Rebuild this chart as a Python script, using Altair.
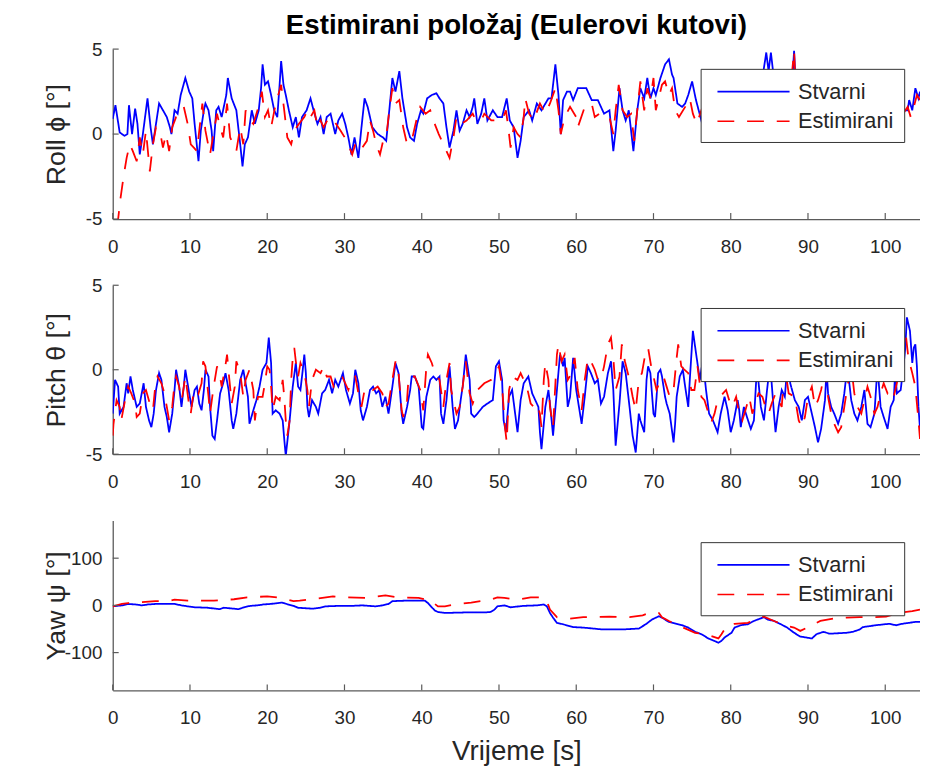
import altair as alt
import pandas as pd

# ---------------- data (time [s], angle) ----------------
ROLL_STVARNI = [[0,0.9],[0.35,1.7],[0.9,0.1],[1.5,-0.1],[1.9,0.0],[2.1,1.7],[2.5,0.0],[2.9,1.5],[3.2,0.6],[3.5,-1.2],[3.9,0.0],[4.5,2.1],[4.9,0.4],[5.2,-0.6],[5.6,0.6],[6.0,1.8],[6.5,1.4],[7.0,1.0],[7.4,0.4],[7.6,0.0],[8.0,1.4],[8.4,1.2],[8.8,2.3],[9.4,3.3],[9.9,2.5],[10.3,2.1],[10.6,0.6],[11.1,-1.6],[11.4,0.2],[11.8,1.4],[12.0,1.8],[12.4,1.4],[12.8,0.2],[13.0,-1.0],[13.4,1.4],[13.7,1.6],[14.1,1.0],[14.7,2.3],[14.9,3.3],[15.4,2.1],[16.0,1.4],[16.5,-0.6],[16.8,-1.9],[17.1,-0.6],[17.5,-0.2],[18.0,1.4],[18.4,0.6],[18.9,1.4],[19.2,2.7],[19.4,4.1],[19.7,2.9],[20.1,3.1],[20.5,2.3],[20.9,1.4],[21.3,1.0],[21.6,2.9],[21.8,4.3],[22.1,2.9],[22.4,2.3],[22.8,1.4],[23.3,0.4],[23.7,1.0],[24.1,-0.2],[24.5,1.0],[25.1,1.4],[25.6,2.1],[26.0,1.4],[26.5,0.6],[26.9,1.0],[27.3,0.0],[27.7,1.0],[28.2,1.2],[28.8,0.0],[29.2,0.8],[29.7,1.2],[30.1,0.6],[30.5,-0.2],[30.9,-1.2],[31.3,-0.2],[31.8,-1.4],[32.2,0.4],[32.6,2.1],[33.0,1.6],[33.6,0.4],[34.3,0.0],[35.0,-0.2],[35.4,-0.4],[35.8,1.4],[36.2,3.3],[36.6,2.5],[37.1,3.7],[37.5,2.1],[38.1,0.4],[38.5,-0.2],[39.0,-0.4],[39.4,0.6],[39.9,1.4],[40.2,1.2],[40.7,2.1],[41.3,2.3],[41.9,2.4],[42.3,2.1],[42.8,1.8],[43.2,0.4],[43.6,-0.8],[44.1,0.2],[44.5,1.4],[44.9,0.2],[45.3,0.6],[45.8,1.4],[46.2,1.0],[46.6,1.6],[46.8,2.1],[47.2,0.6],[47.7,1.2],[48.1,2.1],[48.5,0.8],[49.2,1.4],[49.8,1.0],[50.4,1.0],[51.0,2.1],[51.4,0.8],[51.9,0.4],[52.4,-1.4],[52.8,-0.4],[53.2,1.0],[53.9,1.4],[54.3,0.8],[54.9,1.8],[55.5,1.4],[56.4,2.1],[56.8,2.1],[57.3,4.1],[57.7,2.3],[58.0,0.0],[58.3,2.0],[58.8,2.5],[59.2,2.5],[59.6,2.0],[60.2,2.7],[61.3,2.7],[62.0,2.0],[62.8,2.0],[63.6,1.2],[64.3,1.4],[64.8,-1.0],[65.1,0.2],[65.6,2.7],[66.0,1.4],[66.4,0.8],[66.8,1.4],[67.4,-1.0],[67.9,1.4],[68.3,2.7],[68.8,2.1],[69.2,3.3],[69.6,2.1],[70.0,2.7],[70.3,2.3],[70.9,3.3],[71.5,4.1],[72.0,4.4],[72.4,3.5],[72.6,3.3],[73.1,1.8],[73.7,1.6],[74.1,1.8],[74.5,2.3],[75.0,3.1],[75.5,2.0],[76.2,0.8],[76.8,1.8],[77.4,0.6],[78.0,1.5],[78.6,2.4],[79.2,1.2],[79.8,0.4],[80.4,1.6],[81.0,2.6],[81.6,1.2],[82.2,2.2],[82.8,3.0],[83.4,2.0],[84.0,3.0],[84.6,4.8],[84.9,3.7],[85.2,4.8],[85.6,3.2],[86.2,2.2],[86.8,3.0],[87.4,1.8],[87.9,2.6],[88.2,4.9],[88.5,2.2],[89.0,1.4],[89.6,0.2],[90.2,1.0],[90.8,2.2],[91.4,1.2],[92.0,0.4],[92.6,1.6],[93.2,2.4],[93.8,1.0],[94.4,0.2],[95.0,1.2],[95.6,2.0],[96.2,0.8],[96.8,1.8],[97.4,2.6],[98.0,1.4],[98.6,0.6],[99.2,1.8],[99.8,2.2],[100.4,1.0],[101.0,0.4],[101.6,1.0],[101.9,0.8],[102.3,1.4],[102.9,1.4],[103.1,2.0],[103.5,1.4],[103.9,2.7],[104.3,2.1],[104.5,2.5]]

ROLL_ESTIMIRANI = [[0,-9],[0.7,-5.0],[1.0,-3.8],[1.4,-2.5],[1.8,-1.4],[2.2,-0.6],[2.6,-1.0],[3.1,-1.6],[3.5,-0.2],[3.9,-1.2],[4.3,0.2],[4.8,-2.2],[5.2,-0.6],[5.6,0.4],[6.1,0.2],[6.5,-0.8],[6.9,0.0],[7.3,-1.0],[7.7,0.4],[8.2,1.0],[8.8,1.2],[9.2,1.6],[9.7,0.6],[10.1,-0.6],[10.5,-0.8],[10.9,-1.0],[11.2,0.2],[11.6,1.8],[12.0,0.2],[12.6,-1.2],[13.1,0.2],[13.5,1.2],[13.9,0.4],[14.3,-0.2],[14.8,1.8],[15.2,-0.2],[15.6,-0.6],[16.0,-1.0],[16.5,0.4],[16.9,-0.6],[17.2,1.4],[17.8,0.8],[18.2,0.6],[18.6,1.2],[19.0,1.8],[19.3,2.5],[19.7,1.0],[20.1,1.4],[20.5,0.4],[21.1,1.8],[21.8,2.9],[22.2,1.4],[22.6,-0.2],[23.1,-0.6],[23.5,0.2],[24.1,0.6],[24.8,1.0],[25.2,1.4],[25.6,1.0],[26.1,1.4],[26.5,0.4],[26.9,0.8],[27.3,0.4],[28.0,1.0],[28.6,0.8],[29.5,0.2],[30.3,-0.4],[31.0,-1.2],[31.4,-0.6],[32.0,-1.0],[32.9,-0.4],[33.3,0.8],[33.7,0.2],[34.1,-0.6],[34.6,-1.2],[35.0,-0.4],[35.4,-0.2],[35.8,1.4],[36.2,2.7],[36.6,1.8],[37.1,2.0],[37.6,0.4],[38.1,-0.6],[38.8,-0.2],[39.4,1.0],[39.8,1.6],[40.5,1.2],[41.1,1.4],[41.5,0.8],[42.2,0.0],[42.8,-0.6],[43.2,-1.0],[43.6,-1.4],[44.1,-0.2],[44.5,1.0],[45.1,0.6],[45.8,0.8],[46.6,1.2],[47.0,0.8],[47.7,0.8],[48.1,1.2],[49.0,0.8],[49.8,0.8],[50.4,0.8],[50.9,1.4],[51.2,0.4],[51.5,-0.8],[51.9,0.4],[52.4,0.0],[52.8,-0.2],[53.2,1.0],[53.4,2.1],[53.9,1.2],[54.5,0.8],[55.3,1.8],[56.0,1.2],[56.6,1.8],[57.3,2.7],[57.7,1.4],[58.0,0.0],[58.5,1.0],[59.2,1.6],[60.0,1.0],[60.2,0.4],[61.1,1.6],[62.0,1.8],[62.4,1.0],[63.0,1.2],[63.8,1.0],[64.3,1.0],[64.8,0.0],[65.1,1.4],[65.5,2.9],[66.0,1.4],[66.6,1.0],[67.1,1.2],[67.5,-0.4],[67.9,1.4],[68.3,3.1],[68.8,1.4],[69.2,2.7],[69.6,2.1],[70.0,3.3],[70.3,1.4],[71.1,2.9],[71.5,3.1],[72.0,2.3],[72.4,2.7],[72.8,1.4],[73.3,1.0],[74.1,1.6],[74.7,2.1],[75.1,1.2],[75.6,0.6],[76.2,1.4],[76.8,0.4],[77.4,1.2],[78.0,2.0],[78.6,1.0],[79.2,0.2],[79.8,1.2],[80.4,2.0],[81.0,0.8],[81.6,1.6],[82.2,2.4],[82.8,1.6],[83.4,2.2],[84.0,1.4],[84.6,2.6],[85.2,2.0],[85.8,1.2],[86.4,2.2],[87.0,1.2],[87.6,2.0],[88.2,4.9],[88.5,1.8],[89.0,0.8],[89.6,0.0],[90.2,1.4],[90.8,1.8],[91.4,0.6],[92.0,0.2],[92.6,1.2],[93.2,2.0],[93.8,0.6],[94.4,0.0],[95.0,1.0],[95.6,1.6],[96.2,0.4],[96.8,1.4],[97.4,2.2],[98.0,1.0],[98.6,0.2],[99.2,1.4],[99.8,1.8],[100.4,0.6],[101.0,0.0],[101.6,0.6],[101.9,0.6],[102.3,1.2],[102.9,1.6],[103.3,1.0],[103.7,1.6],[104.1,2.3],[104.5,2.0]]

PITCH_STVARNI = [[0,-2.6],[0.3,-0.6],[0.7,-1.0],[0.9,-2.6],[1.4,-2.2],[1.8,-0.8],[2.0,-1.4],[2.3,-0.4],[2.6,-1.2],[3.1,-2.2],[3.5,-2.0],[4.0,-0.8],[4.3,-2.2],[4.7,-3.0],[5.0,-3.4],[5.3,-2.6],[5.6,-1.2],[6.0,-0.2],[6.3,-0.6],[6.7,-2.2],[7.0,-2.8],[7.3,-3.7],[7.7,-2.6],[8.0,-1.2],[8.2,0.0],[8.6,-1.0],[8.9,-2.2],[9.2,-1.0],[9.4,0.0],[9.9,-1.4],[10.2,-2.2],[10.6,-1.2],[10.9,-1.0],[11.2,-2.0],[11.5,-2.4],[11.8,-1.2],[12.0,0.0],[12.4,-0.4],[12.6,-2.2],[12.9,-3.9],[13.2,-4.1],[13.5,-3.0],[13.9,-1.4],[14.3,-0.8],[14.6,-0.2],[15.0,-1.2],[15.4,-3.0],[15.6,-3.5],[16.0,-2.6],[16.5,-0.6],[16.9,0.0],[17.2,-0.8],[17.5,-1.6],[17.7,-3.2],[18.2,-2.4],[18.6,-1.8],[19.0,-1.0],[19.4,0.0],[19.9,0.4],[20.2,1.9],[20.5,0.4],[20.7,-2.6],[21.1,-2.4],[21.6,-2.6],[22.0,-3.0],[22.2,-4.1],[22.4,-5.1],[22.9,-3.0],[23.3,-1.0],[23.7,0.4],[24.0,-1.0],[24.3,-1.2],[24.6,0.0],[24.8,0.9],[25.0,-0.2],[25.2,-2.2],[25.4,-2.8],[25.8,-1.8],[26.3,-2.2],[26.6,-2.6],[27.1,-1.4],[27.5,-1.2],[28.0,-0.6],[28.4,-1.4],[28.8,-0.6],[29.2,-1.0],[29.8,-0.2],[30.2,-1.2],[30.7,-2.0],[31.1,-1.4],[31.4,0.0],[31.8,-0.8],[32.1,-2.4],[32.4,-3.0],[32.9,-2.2],[33.3,-1.2],[33.7,-1.0],[34.1,-1.4],[34.5,-1.2],[34.9,-2.2],[35.3,-1.6],[35.7,-2.6],[36.2,-1.0],[36.6,0.4],[37.0,-0.2],[37.4,-2.6],[37.6,-3.2],[38.1,-2.2],[38.5,-1.2],[38.7,-0.4],[39.1,-0.4],[39.6,-1.0],[40.0,-3.4],[40.2,-3.5],[40.6,-1.6],[41.1,-0.6],[41.5,-0.4],[41.9,-0.6],[42.3,-0.4],[42.5,-2.6],[42.8,-3.2],[43.2,-1.8],[43.6,0.2],[44.0,-2.2],[44.3,-3.5],[44.7,-3.0],[45.1,-1.6],[45.3,-1.0],[45.7,0.9],[46.2,-0.6],[46.4,-2.6],[46.8,-2.8],[47.2,-2.6],[47.9,-2.2],[48.5,-2.0],[49.2,-1.8],[49.6,0.2],[50.0,0.5],[50.4,-0.6],[50.6,-3.0],[50.9,-3.7],[51.3,-1.6],[51.7,-1.2],[52.4,-3.7],[52.8,-1.8],[53.2,-0.8],[53.8,-0.4],[54.3,-1.4],[54.7,-1.8],[55.1,-2.2],[55.3,-3.7],[55.5,-4.7],[56.0,-2.2],[56.4,-1.2],[56.6,-2.0],[57.0,-3.9],[57.5,-1.2],[57.9,0.9],[58.3,0.2],[58.5,0.7],[58.9,-2.2],[59.2,-1.6],[59.6,0.7],[60.0,-1.2],[60.7,-3.2],[61.1,-1.6],[61.5,0.2],[61.9,-0.2],[62.4,-0.8],[62.8,-0.6],[63.2,-2.0],[63.6,-1.6],[64.1,-0.2],[64.5,0.5],[64.8,-1.2],[65.1,-4.5],[65.6,-2.0],[66.0,0.5],[66.4,-0.2],[66.9,-2.2],[67.3,-3.9],[67.7,-4.9],[68.1,-2.6],[68.3,-3.0],[68.8,-3.7],[69.1,-0.6],[69.3,0.2],[69.6,-0.2],[70.0,-2.6],[70.2,-2.8],[70.4,-1.6],[70.6,-0.2],[70.9,0.0],[71.1,-0.4],[71.5,-1.6],[71.7,-2.0],[72.1,-2.6],[72.6,-4.3],[72.8,-3.2],[73.0,-1.6],[73.4,-0.4],[73.8,0.0],[74.1,-1.0],[74.5,-2.2],[74.7,-0.6],[75.1,2.3],[75.5,1.0],[76.0,-0.6],[76.4,0.6],[76.8,-1.2],[77.2,-2.6],[77.7,-3.0],[78.3,-3.7],[78.7,-2.6],[79.2,-1.6],[79.6,-2.4],[80.0,-3.7],[80.4,-3.0],[80.9,-1.8],[81.1,-2.4],[81.3,-3.4],[81.7,-2.2],[82.1,-2.8],[82.6,-3.5],[83.0,-3.0],[83.4,0.2],[83.9,-2.2],[84.3,-3.0],[84.7,-1.2],[85.1,0.4],[85.6,-2.6],[85.8,-3.7],[86.2,-2.2],[86.6,-1.2],[87.0,-1.6],[87.4,0.6],[87.7,-0.8],[88.3,-1.8],[88.8,-2.2],[89.2,-3.0],[89.6,-1.8],[90.0,-1.6],[90.5,-2.6],[90.9,-3.4],[91.3,-4.3],[91.7,-3.5],[92.2,-1.8],[92.4,0.0],[92.6,-1.4],[93.0,-2.2],[93.4,-2.6],[93.9,-3.2],[94.3,-2.6],[94.7,-1.4],[95.1,0.2],[95.6,-1.8],[96.0,-2.6],[96.4,-3.0],[96.9,-2.2],[97.3,-1.2],[97.7,-3.2],[98.1,-3.4],[98.6,-2.6],[99.0,0.2],[99.4,-2.2],[99.8,-2.8],[100.3,-3.5],[100.7,-2.2],[101.1,-1.8],[101.3,0.0],[101.5,-1.4],[102.0,-1.2],[102.4,0.4],[102.6,1.3],[102.8,3.1],[103.2,2.3],[103.5,0.4],[103.7,1.3],[103.9,1.5],[104.1,0.2],[104.3,-2.2],[104.5,-3.5]]

PITCH_ESTIMIRANI = [[0,-3.9],[0.1,-3.2],[0.5,-1.8],[0.9,-2.2],[1.1,-3.0],[1.6,-1.8],[2.0,-1.0],[2.4,-1.4],[2.9,-2.0],[3.1,-2.8],[3.5,-2.6],[3.9,-1.4],[4.3,-1.2],[4.8,-2.0],[5.2,-2.4],[5.5,-1.0],[5.8,-0.4],[6.3,-0.8],[6.7,-1.4],[7.0,-2.2],[7.3,-3.0],[7.7,-2.2],[8.0,-0.8],[8.2,-0.4],[8.6,-1.0],[8.8,-1.8],[9.0,-1.6],[9.4,-0.4],[9.8,-1.8],[10.1,-2.6],[10.5,-1.2],[10.9,-1.2],[11.1,-1.4],[11.5,-0.8],[11.7,0.5],[12.0,0.2],[12.4,-1.6],[12.6,-2.6],[13.0,-1.2],[13.5,0.2],[13.9,-0.4],[14.1,-1.0],[14.5,0.0],[14.8,0.9],[15.1,-0.6],[15.4,-2.0],[15.8,-1.0],[16.0,0.5],[16.5,-0.2],[16.9,-1.6],[17.2,-0.6],[17.7,0.0],[18.2,-1.2],[18.4,-3.0],[18.8,-1.6],[19.4,-1.6],[19.7,-0.8],[20.0,0.2],[20.3,0.0],[20.5,-1.0],[20.7,-2.4],[21.1,-1.6],[21.6,-1.8],[22.0,-0.6],[22.2,-1.6],[22.4,-3.0],[22.6,-3.9],[22.9,-3.0],[23.1,-0.6],[23.3,0.7],[23.5,1.3],[23.7,0.5],[24.0,-0.4],[24.3,0.4],[24.8,-0.2],[25.2,-1.2],[25.4,-2.2],[25.6,-1.4],[25.8,-0.6],[26.3,0.0],[26.9,-0.2],[27.3,0.2],[27.7,-0.4],[28.2,-0.4],[28.6,-1.0],[29.2,-0.6],[29.7,-0.4],[30.1,-0.8],[30.5,-1.2],[30.9,-0.6],[31.4,-0.4],[31.8,-1.4],[32.2,-2.2],[32.6,-1.2],[33.3,-1.0],[33.7,-1.2],[34.3,-1.0],[34.9,-1.4],[35.3,-2.2],[35.7,-2.0],[36.2,-0.6],[36.6,0.5],[37.0,-0.2],[37.4,-2.4],[37.6,-2.8],[38.1,-1.8],[38.3,-0.4],[38.7,-0.4],[39.1,-0.4],[39.8,-1.2],[40.2,-2.4],[40.6,0.2],[40.8,0.9],[41.3,0.4],[41.7,-0.2],[42.3,-0.6],[42.8,-2.2],[43.2,-0.6],[43.6,0.4],[43.8,-1.2],[44.5,-2.6],[44.9,-2.2],[45.3,-1.0],[45.7,0.5],[46.2,-1.4],[46.6,-2.0],[47.2,-1.2],[48.1,-0.8],[49.0,-0.6],[49.6,-0.2],[50.0,0.2],[50.4,-1.0],[50.8,-3.5],[51.0,-4.3],[51.3,-1.2],[51.7,-0.4],[52.4,-0.6],[52.8,-0.2],[53.2,-0.6],[53.6,-1.0],[54.1,-2.0],[54.5,-2.2],[54.9,-2.0],[55.3,-2.6],[55.5,-3.4],[55.8,-0.6],[56.0,0.4],[56.4,-0.6],[56.6,-2.2],[57.0,-3.4],[57.5,0.9],[57.7,1.5],[58.1,0.5],[58.5,0.9],[58.9,-0.6],[59.4,-0.2],[59.8,0.7],[60.2,-1.2],[60.7,-2.4],[61.1,-0.6],[61.5,0.7],[61.9,0.5],[62.4,0.0],[62.8,-0.6],[63.2,-0.6],[63.6,0.2],[64.1,1.5],[64.5,1.9],[64.8,0.7],[65.1,-1.2],[65.6,-0.4],[65.9,1.5],[66.3,0.5],[66.9,-0.6],[67.3,-1.6],[67.7,-2.4],[68.1,-0.6],[68.5,-0.2],[69.0,1.1],[69.3,1.3],[69.7,0.2],[70.0,-0.4],[70.4,-1.2],[70.9,-0.6],[71.3,-0.4],[71.7,-1.0],[72.1,-1.6],[72.6,-1.2],[73.0,0.7],[73.2,1.5],[73.6,0.2],[74.0,0.0],[74.5,-0.2],[74.9,-1.2],[75.3,-1.2],[75.7,0.2],[76.2,-1.6],[76.6,-1.8],[77.0,-2.4],[77.5,-3.1],[77.9,-2.6],[78.3,-1.8],[79.0,-1.4],[79.4,-1.2],[79.8,-1.8],[80.2,-2.2],[80.7,-1.6],[81.1,-2.6],[81.5,-3.0],[81.9,-2.4],[82.4,-1.6],[82.8,-2.6],[83.2,-2.0],[83.6,-1.4],[84.1,-1.6],[84.5,-2.2],[84.9,-2.6],[85.3,-2.0],[85.8,-1.4],[86.2,-1.8],[86.6,-2.2],[87.0,0.2],[87.5,-1.4],[88.3,-1.6],[88.8,-3.0],[89.2,-3.4],[89.6,-2.8],[90.0,-1.6],[90.5,-1.0],[90.9,-2.2],[91.3,-1.8],[91.7,-1.2],[92.2,0.0],[92.6,-1.6],[93.0,-2.6],[93.4,-3.2],[93.9,-3.7],[94.3,-3.4],[94.7,-2.2],[95.1,-1.0],[95.6,0.2],[96.0,-1.4],[96.4,-2.2],[96.9,-2.6],[97.3,-1.8],[97.7,-1.0],[98.1,-1.6],[98.6,-2.6],[99.0,-2.2],[99.4,-1.4],[99.8,-0.8],[100.3,-1.4],[100.7,-1.2],[101.1,-1.6],[101.5,-0.8],[102.0,0.2],[102.4,1.3],[102.7,1.9],[103.0,0.7],[103.5,-0.2],[103.9,-1.0],[104.3,-3.0],[104.5,-4.1]]

YAW_STVARNI = [[0,-2],[1.2,0],[2.0,3],[2.9,2],[3.8,0],[4.6,2],[5.5,3],[7.2,3],[8.0,3],[8.9,0],[9.7,-2],[10.6,-4],[12.3,-5],[13.8,-8],[14.4,-5],[15.7,-7],[16.3,-8],[17.0,-4],[17.8,-1],[18.7,0],[19.5,2],[20.4,3],[21.9,6],[22.5,3],[23.4,-1],[24.0,-5],[25.9,-7],[26.8,-5],[27.6,-2],[29.3,-1],[31.0,-1],[32.3,0],[34.0,-2],[34.9,0],[35.7,3],[36.2,9],[37.9,10],[40.4,10],[40.8,5],[41.3,-4],[41.7,-11],[42.1,-14],[43.0,-16],[45.5,-15],[48.1,-15],[48.9,-14],[49.4,-9],[49.8,-2],[50.7,0],[51.5,-4],[53.2,-1],[54.9,0],[55.8,2],[56.2,-2],[56.6,-16],[57.0,-26],[57.5,-37],[58.3,-40],[59.6,-46],[60.9,-47],[63.4,-51],[66.0,-51],[68.1,-49],[69.0,-40],[69.8,-30],[70.7,-23],[71.1,-26],[72.0,-35],[73.7,-42],[74.5,-47],[75.4,-56],[76.2,-61],[77.1,-70],[78.4,-79],[78.8,-75],[79.2,-68],[80.1,-58],[80.5,-47],[81.3,-42],[82.2,-40],[83.0,-33],[84.3,-25],[84.8,-30],[85.6,-33],[86.5,-40],[87.3,-47],[88.2,-58],[89.0,-66],[90.5,-70],[91.1,-61],[92.0,-56],[92.8,-60],[95.0,-58],[95.8,-56],[96.7,-51],[97.1,-46],[98.8,-42],[100.5,-39],[101.4,-42],[102.2,-39],[103.9,-35],[104.5,-35]]

YAW_ESTIMIRANI = [[0,-2],[1.2,3],[2.0,5],[3.8,7],[5.5,9],[7.2,9],[8.0,12],[9.7,10],[13.1,10],[15.7,13],[17.4,17],[20.0,19],[21.7,16],[23.4,9],[24.2,10],[25.9,13],[27.6,17],[28.5,19],[30.2,17],[32.7,16],[35.3,21],[37.0,17],[39.6,16],[40.4,13],[41.3,10],[41.7,3],[42.1,-2],[43.0,-2],[44.7,3],[46.4,6],[48.1,10],[48.9,12],[49.8,17],[50.7,16],[52.4,12],[54.1,17],[55.8,17],[56.2,9],[56.6,-9],[57.5,-25],[59.2,-28],[60.9,-25],[64.3,-24],[66.9,-25],[68.6,-21],[69.4,-16],[70.3,-14],[70.7,-16],[71.1,-25],[72.0,-33],[73.7,-46],[75.4,-58],[77.1,-63],[78.4,-70],[78.8,-61],[79.2,-51],[79.6,-42],[80.5,-39],[82.2,-37],[83.9,-26],[84.3,-24],[85.6,-33],[87.3,-44],[88.2,-47],[89.0,-54],[89.9,-47],[91.6,-33],[93.3,-28],[95.0,-26],[96.7,-25],[98.4,-25],[100.1,-24],[101.8,-16],[103.5,-12],[104.5,-9]]

SERIES = ["Stvarni", "Estimirani"]
SERIES_COLORS = ["#0000ff", "#ff0000"]
SERIES_DASH = [[1, 0], [17, 13]]
TIME_TICKS = [0, 10, 20, 30, 40, 50, 60, 70, 80, 90, 100]
ROLL_TICKS = [-5, 0, 5]
PITCH_TICKS = [-5, 0, 5]
YAW_TICKS = [-100, 0, 100]

FONT = "Liberation Sans"
TXT = "#262626"
AXC = "#5a5a5a"
W = 817
X_DOMAIN = [0, 104.5]


def frame(pairs, name):
    return pd.DataFrame({"t": [p[0] for p in pairs], "v": [p[1] for p in pairs], "s": name})


def panel(stv, est, ydom, yticks, ytitle, height, legend_y, xtitle=None, title=None):
    df = pd.concat([frame(stv, SERIES[0]), frame(est, SERIES[1])], ignore_index=True)
    xs = alt.Scale(domain=X_DOMAIN, nice=False, zero=False)
    ys = alt.Scale(domain=ydom, nice=False, zero=False)
    leg = alt.Legend(
        title=None, orient="none", legendX=595, legendY=legend_y,
        fillColor="white", strokeColor="#333333", padding=10, rowPadding=6,
        symbolType="M-3.04,0H3.04", symbolSize=576, symbolStrokeWidth=1.6,
        symbolOffset=30.5, labelOffset=32, labelFont=FONT, labelFontSize=22,
        labelColor=TXT, labelLimit=0, zindex=1,
    )
    color = alt.Color("s:N", scale=alt.Scale(domain=SERIES, range=SERIES_COLORS), legend=leg)
    dash = alt.StrokeDash("s:N", scale=alt.Scale(domain=SERIES, range=SERIES_DASH), legend=leg)
    xaxis = alt.Axis(
        values=TIME_TICKS, labelExpr="'' + datum.value", ticks=False, grid=False,
        labelFlush=False, labelPadding=19, labelFont=FONT, labelFontSize=19,
        labelColor=TXT, domainColor=AXC, domainWidth=1.3, title=xtitle,
        titleFont=FONT, titleFontSize=28, titleFontWeight="normal", titleColor=TXT,
        titlePadding=10,
    )
    yaxis = alt.Axis(
        values=yticks, labelExpr="'' + datum.value", ticks=False, grid=False,
        labelPadding=11, labelFont=FONT, labelFontSize=19, labelColor=TXT,
        domainColor=AXC, domainWidth=1.3, title=ytitle, titleFont=FONT,
        titleFontSize=27, titleFontWeight="normal", titleColor=TXT,
        titleX=-57, titleY=height / 2, titleAngle=270, titleAlign="center",
        titleBaseline="middle",
    )
    base = alt.Chart(df).encode(
        x=alt.X("t:Q", scale=xs, axis=xaxis),
        y=alt.Y("v:Q", scale=ys, axis=yaxis),
        color=color,
        strokeDash=dash,
    )
    blue = base.transform_filter(alt.datum.s == SERIES[0]).mark_line(clip=True, strokeWidth=1.8)
    red = base.transform_filter(alt.datum.s == SERIES[1]).mark_line(clip=True, strokeWidth=1.8)
    xt = alt.Chart(pd.DataFrame({"t": TIME_TICKS})).mark_rule(color=AXC, strokeWidth=1.2).encode(
        x=alt.X("t:Q", scale=xs, axis=xaxis), y=alt.value(height), y2=alt.value(height - 6))
    yt = alt.Chart(pd.DataFrame({"v": yticks})).mark_rule(color=AXC, strokeWidth=1.2).encode(
        y=alt.Y("v:Q", scale=ys, axis=yaxis), x=alt.value(0), x2=alt.value(6))
    props = dict(width=W, height=height)
    if title is not None:
        props["title"] = alt.TitleParams(
            text=title, font=FONT, fontSize=28, fontWeight="bold", color="#000000",
            anchor="middle", frame="group", offset=0)
    return alt.layer(blue, red, xt, yt).properties(**props)


p1 = panel(ROLL_STVARNI, ROLL_ESTIMIRANI, [-5, 5], ROLL_TICKS, "Roll ϕ [°]", 172, 20,
           title="Estimirani položaj (Eulerovi kutovi)")
p2 = panel(PITCH_STVARNI, PITCH_ESTIMIRANI, [-5, 5], PITCH_TICKS, "Pitch θ [°]", 171, 23)
p3 = panel(YAW_STVARNI, YAW_ESTIMIRANI, [-180, 180], YAW_TICKS, "Yaw ψ [°]", 172, 22,
           xtitle="Vrijeme [s]")

chart = (
    alt.vconcat(p1, p2, p3, spacing=67, bounds="flush")
    .resolve_scale(color="independent", strokeDash="independent")
    .resolve_legend(color="independent", strokeDash="independent")
    .properties(padding={"left": 35, "right": 0, "top": 0, "bottom": 0})
    .configure_view(stroke=None)
)

chart.save("out.html", embed_options={"renderer": "svg", "actions": False})
